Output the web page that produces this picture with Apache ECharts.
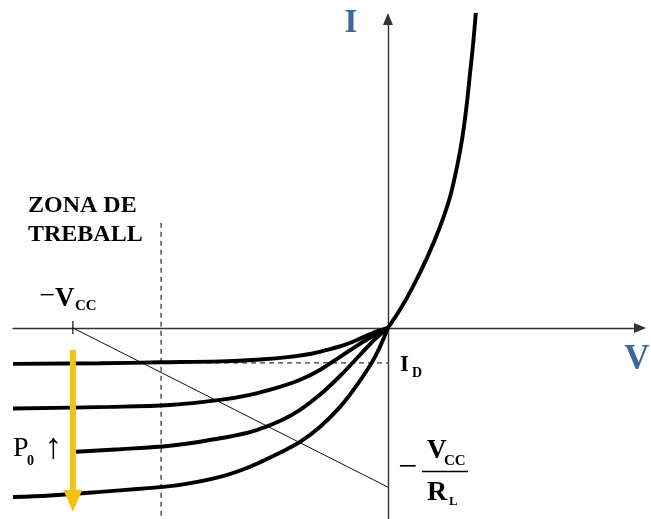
<!DOCTYPE html>
<html>
<head>
<meta charset="utf-8">
<script src="https://cdn.jsdelivr.net/npm/echarts/dist/echarts.min.js"></script>
<style>
html, body { margin: 0; padding: 0; background: #fff; }
#chart { width: 651px; height: 519px; }
</style>
</head>
<body>
<div id="chart"></div>
<script>
// Diode reverse characteristic under increasing light power, with load line.
// Voltage in volts (V), current in arbitrary units (I).

// Reverse-bias curves, one per optical power level (top = lowest power)
const curveP1 = [[-11.9,-11.3],[-9.14,-11.1],[-7.21,-10.8],[-5.33,-10.5],[-4.06,-9.9],[-3.11,-9.1],[-2.48,-8.2],[-1.94,-6.9],[-1.37,-5.3],[-0.98,-3.8],[-0.48,-1.6],[0,0]];
const curveP2 = [[-11.9,-25.3],[-8.83,-24.8],[-6.92,-24.2],[-5.33,-22.6],[-4.38,-21.0],[-3.43,-18.5],[-2.79,-16.3],[-2.16,-13.2],[-1.52,-9.1],[-1.05,-6.0],[-0.57,-3.1],[0,0]];
const curveP3 = [[-9.9,-38.9],[-8.51,-38.1],[-6.92,-37.0],[-5.65,-35.2],[-4.38,-32.7],[-3.43,-29.2],[-2.79,-25.7],[-2.16,-21.0],[-1.52,-15.1],[-0.89,-8.5],[-0.41,-3.5],[0,0]];
const curveP4 = [[-11.9,-53.1],[-10.73,-52.6],[-9.14,-51.5],[-7.87,-50.5],[-6.6,-49.3],[-5.33,-46.8],[-4.38,-43.6],[-3.43,-39.2],[-2.79,-35.8],[-2.16,-31.1],[-1.52,-24.8],[-0.89,-16.6],[-0.41,-9.1],[0,0]];

// Forward-bias branch
const forwardCurve = [[0,0],[0.38,5.7],[0.79,12.9],[1.24,22.0],[1.65,31.7],[1.97,41.1],[2.19,50.5],[2.35,59.0],[2.48,68.4],[2.60,79.4],[2.70,88.8],[2.79,98.9]];

// Circuit parameters
const supplyVoltage = -10;      // -Vcc
const loadLineCurrent = -50;    // -Vcc / RL
const darkCurrent = -11;        // I_D
const workingZoneEdge = -7.2;   // limit of the working zone
const zoneLineTop = 33;

// Yellow arrow: increasing optical power P0
const powerArrow = [[-10, -6.9], [-10, -54.3]];

const SERIF = "'Liberation Serif', 'DejaVu Serif', serif";
const BLUE = '#3B6897';

const chart = echarts.init(document.getElementById('chart'), null, { renderer: 'canvas' });

const curveStyle = { color: '#000', width: 3.9 };
function curve(data) {
  return {
    type: 'line', data: data, smooth: 0.35, showSymbol: false, symbol: 'none',
    clip: false, lineStyle: curveStyle, z: 5, silent: true
  };
}

function txt(x, y, text, size, opts) {
  opts = opts || {};
  return {
    type: 'text', x: x, y: y, z: 20, silent: true,
    style: {
      text: text,
      font: (opts.weight || 'bold') + ' ' + size + 'px ' + SERIF,
      fill: opts.color || '#000',
      textAlign: opts.align || 'left',
      textVerticalAlign: 'middle'
    }
  };
}

const option = {
  animation: false,
  backgroundColor: '#fff',
  grid: { left: 13, right: 11, top: 19, bottom: 0, containLabel: false },
  xAxis: {
    type: 'value', min: -11.9, max: 8,
    axisLine: { onZero: true, symbol: ['none', 'triangle'], symbolSize: [10, 12],
                lineStyle: { color: '#333', width: 1.4 } },
    axisTick: { show: false }, axisLabel: { show: false }, splitLine: { show: false }
  },
  yAxis: {
    type: 'value', min: -60, max: 97,
    axisLine: { onZero: true, symbol: ['none', 'triangle'], symbolSize: [10, 12],
                lineStyle: { color: '#333', width: 1.4 } },
    axisTick: { show: false }, axisLabel: { show: false }, splitLine: { show: false }
  },
  series: [
    // working zone boundary
    {
      type: 'line', data: [[workingZoneEdge, zoneLineTop], [workingZoneEdge, -60]],
      symbol: 'none', clip: false, silent: true, z: 2,
      lineStyle: { color: '#555', width: 1.5, type: [5, 4] }
    },
    // dark current level
    {
      type: 'line', data: [[workingZoneEdge, darkCurrent], [0, darkCurrent]],
      symbol: 'none', silent: true, z: 2,
      lineStyle: { color: '#333', width: 1.3, type: [5, 4] }
    },
    // load line
    {
      type: 'line', data: [[supplyVoltage, 0], [0, loadLineCurrent]],
      symbol: 'none', silent: true, z: 3,
      lineStyle: { color: '#111', width: 1 }
    },
    // tick at -Vcc
    {
      type: 'line', data: [[supplyVoltage, 2.2], [supplyVoltage, -1.9]],
      symbol: 'none', silent: true, z: 3,
      lineStyle: { color: '#111', width: 1.2 }
    },
    curve(curveP1),
    curve(curveP2),
    curve(curveP3),
    curve(curveP4),
    curve(forwardCurve),
    // optical power arrow
    {
      type: 'line', silent: true, z: 10, clip: false,
      data: [
        { value: powerArrow[0], symbol: 'none' },
        { value: powerArrow[1], symbol: 'triangle', symbolSize: [19, 22], symbolRotate: 180,
          itemStyle: { color: '#F4C20F' } }
      ],
      showSymbol: true,
      lineStyle: { color: '#F4C20F', width: 6 }
    }
  ],
  graphic: [
    txt(351, 23, 'I', 33, { color: BLUE, align: 'center' }),
    txt(637, 360, 'V', 35, { color: BLUE, align: 'center' }),
    txt(28, 206, 'ZONA DE', 24),
    txt(28, 235, 'TREBALL', 24),
    txt(47.5, 297, '\u2212', 28, { align: 'center', weight: 'normal' }),
    txt(55, 299, 'V', 27),
    txt(75, 306.5, 'CC', 15),
    txt(400, 365.5, 'I', 23),
    txt(412, 373, 'D', 14),
    txt(407.5, 468.5, '\u2212', 34, { align: 'center', weight: 'normal' }),
    {
      type: 'line', silent: true, z: 20,
      shape: { x1: 422, y1: 471.5, x2: 468, y2: 471.5 },
      style: { stroke: '#000', lineWidth: 1.5 }
    },
    txt(427, 451, 'V', 27),
    txt(444, 461.5, 'CC', 15),
    txt(427, 492.5, 'R', 28),
    txt(449, 502, 'L', 13),
    txt(13, 449, 'P', 28, { weight: 'normal' }),
    txt(27, 461.5, '0', 14),
    txt(53.5, 449, '\u2191', 36, { weight: 'normal', align: 'center' })
  ]
};

chart.setOption(option);
</script>
</body>
</html>
